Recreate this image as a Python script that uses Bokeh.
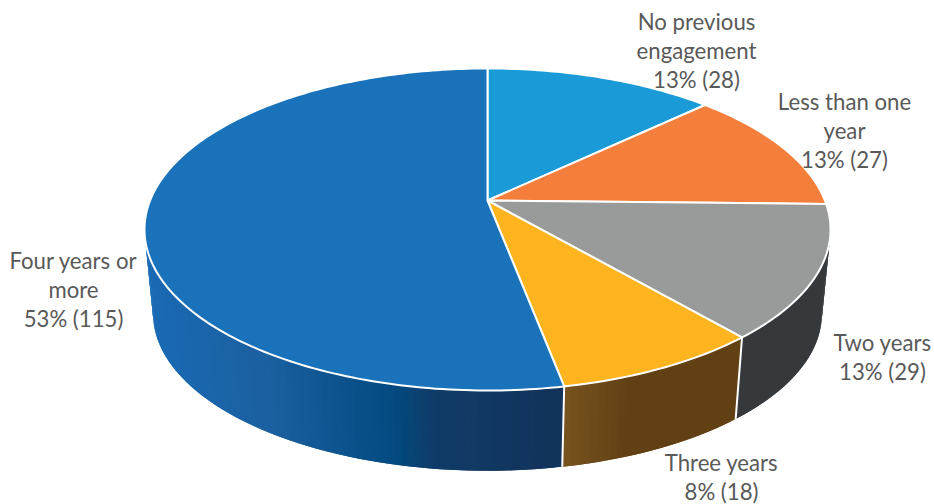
import math
from bokeh.plotting import figure
from bokeh.embed import file_html
from bokeh.resources import INLINE
from bokeh.core.properties import value

categories = ["No previous engagement", "Less than one year", "Two years", "Three years", "Four years or more"]
counts = [28, 27, 29, 18, 115]
percents = ["13%", "13%", "13%", "8%", "53%"]
label_lines = [["No previous", "engagement"], ["Less than one", "year"], ["Two years"], ["Three years"], ["Four years or", "more"]]
top_colors = ["#1a9bd7", "#f47f3c", "#999b9b", "#fdb41f", "#1a73ba"]
wall_stops = {
    2: [(0.0, "#36393c"), (1.0, "#36393c")],
    3: [(0.0, "#614114"), (0.6, "#614114"), (1.0, "#7a5520")],
    4: [(0.0, "#12335a"), (0.3, "#0f3c68"), (0.39, "#024a80"), (0.7, "#1b60a0"), (1.0, "#1a6ab5")],
}

CX, CY = 487.0, 200.0
A, B, C = 155.8, 0.18, 337.4
K, DY = 0.975, 85.0
label_x = [696, 844, 882, 721, 73]
label_y = [21, 101, 342, 462, 260]
LINE = 29.0
TEXT_COLOR = "#595959"
FONT = "Lato"


def rim(theta):
    t = math.radians(theta)
    s, c = math.sin(t), math.cos(t)
    d = 1 + B * c
    return C * s / d, -A * c / d


def top_pt(theta):
    x, y = rim(theta)
    return CX + x, CY + y


def bot_pt(theta):
    x, y = rim(theta)
    return CX + K * x, CY + DY + K * y


def hex2rgb(h):
    return tuple(int(h[i:i + 2], 16) for i in (1, 3, 5))


def stop_color(stops, f):
    for (f0, c0), (f1, c1) in zip(stops, stops[1:]):
        if f <= f1:
            u = 0 if f1 == f0 else (f - f0) / (f1 - f0)
            a, b = hex2rgb(c0), hex2rgb(c1)
            return "#%02x%02x%02x" % tuple(round(a[i] + (b[i] - a[i]) * u) for i in range(3))
    return stops[-1][1]


total = sum(counts)
edges = [0.0]
for v in counts:
    edges.append(edges[-1] + v / total * 360.0)

p = figure(width=934, height=504, x_range=(0, 934), y_range=(504, 0),
           output_backend="svg", toolbar_location=None, min_border=0,
           outline_line_color=None, background_fill_color="white")
p.axis.visible = False
p.grid.visible = False

WALL_FROM, WALL_TO = 100.4, 259.6
for i in (4, 3, 2):
    lo = max(edges[i], WALL_FROM)
    hi = min(edges[i + 1], WALL_TO)
    n = max(2, int(hi - lo))
    ths = [lo + (hi - lo) * j / n for j in range(n + 1)]
    xa = top_pt(lo)[0]
    xb = top_pt(hi)[0]
    xs, ys, cols = [], [], []
    for j in range(n - 1, -1, -1):
        t0, t1 = ths[j], ths[min(j + 2, n)]
        p0, p1, q1, q0 = top_pt(t0), top_pt(t1), bot_pt(t1), bot_pt(t0)
        xs.append([p0[0], p1[0], q1[0], q0[0]])
        ys.append([p0[1], p1[1], q1[1], q0[1]])
        xm = (top_pt(ths[j])[0] + top_pt(ths[j + 1])[0]) / 2
        f = (xa - xm) / (xa - xb)
        cols.append(stop_color(wall_stops[i], f))
    p.patches(xs, ys, fill_color=cols, line_color=None)

for i in (2, 3):
    t = edges[i + 1]
    a, b = top_pt(t), bot_pt(t)
    p.line([a[0], b[0]], [a[1], b[1]], line_color="white", line_width=2)

for i, col in enumerate(top_colors):
    n = max(4, int(edges[i + 1] - edges[i]))
    ths = [edges[i] + (edges[i + 1] - edges[i]) * j / n for j in range(n + 1)]
    pts = [top_pt(t) for t in ths]
    xs = [CX] + [q[0] for q in pts]
    ys = [CY] + [q[1] for q in pts]
    p.patch(xs, ys, fill_color=col, line_color="white", line_width=2, line_join="round")

for i, cat in enumerate(categories):
    lines = label_lines[i] + [f"{percents[i]} ({counts[i]})"]
    ly = [label_y[i] + LINE * j for j in range(len(lines))]
    p.text([label_x[i]] * len(lines), ly, text=lines, text_font=value(FONT),
           text_font_size="22.2px", text_color=TEXT_COLOR, text_align="center", text_baseline="middle")

open("out.html", "w").write(file_html(p, INLINE))
